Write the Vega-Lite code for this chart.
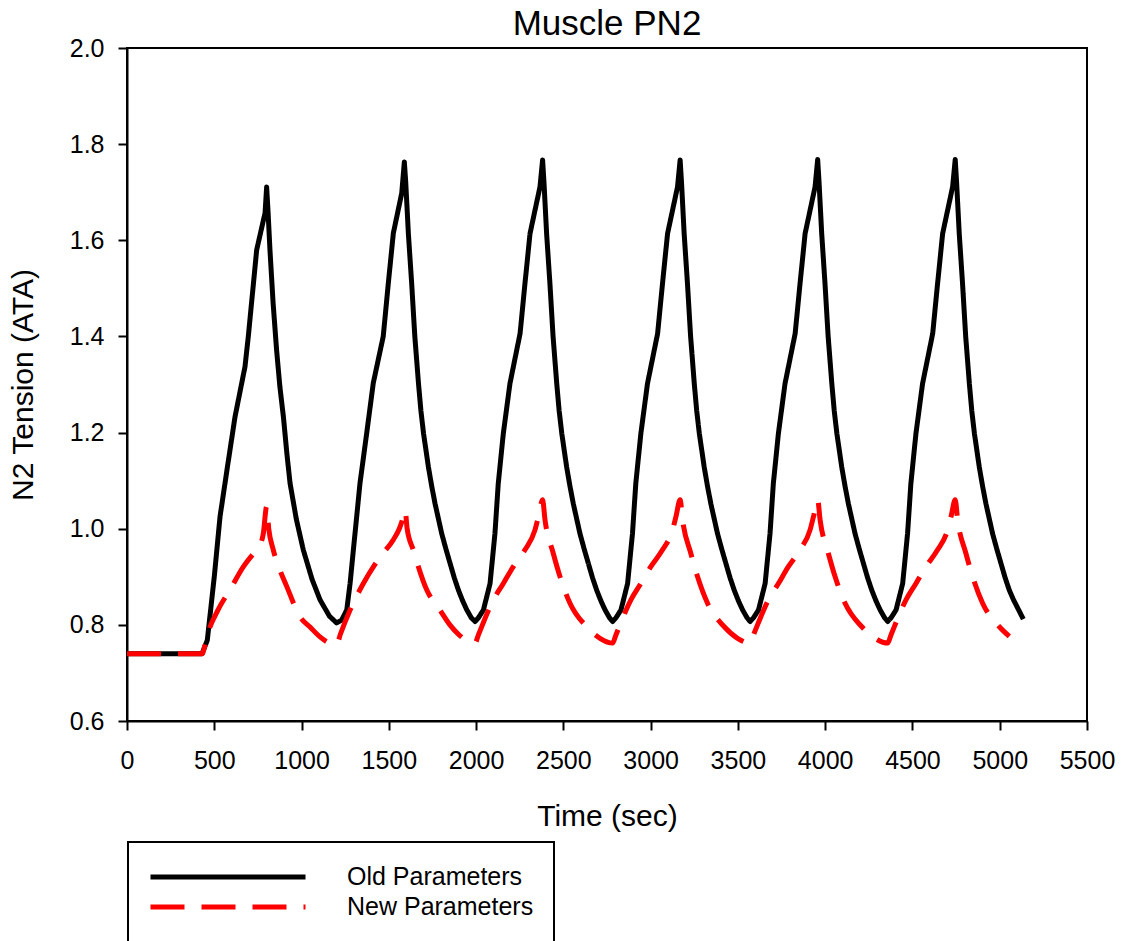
{
  "$schema": "https://vega.github.io/schema/vega-lite/v6.json",
  "width": 960,
  "height": 673,
  "autosize": {"type": "none"},
  "padding": {"left": 127, "top": 48, "right": 36, "bottom": 220},
  "title": {"text": "Muscle PN2", "fontSize": 35, "fontWeight": "normal", "color": "black", "baseline": "bottom", "offset": 5, "dy": 46, "anchor": "middle", "frame": "group"},
  "config": {
    "font": "Liberation Sans",
    "view": {"stroke": "black", "strokeWidth": 2},
    "legend": {"strokeWidth": 2, "strokeColor": "black"},
    "axis": {"grid": false, "domainColor": "black", "domainWidth": 2, "tickColor": "black", "tickWidth": 2, "tickSize": 9, "labelColor": "black", "titleColor": "black", "labelFontSize": 25, "titleFontSize": 30, "titleFontWeight": "normal", "labelFont": "Liberation Sans", "titleFont": "Liberation Sans"}
  },
  "data": {"values": [
    {"series": "Old Parameters", "t": 0, "v": 0.74},
    {"series": "Old Parameters", "t": 430, "v": 0.74},
    {"series": "Old Parameters", "t": 460, "v": 0.768},
    {"series": "Old Parameters", "t": 500, "v": 0.90},
    {"series": "Old Parameters", "t": 533, "v": 1.025},
    {"series": "Old Parameters", "t": 576, "v": 1.13},
    {"series": "Old Parameters", "t": 619, "v": 1.233},
    {"series": "Old Parameters", "t": 676, "v": 1.337},
    {"series": "Old Parameters", "t": 695, "v": 1.40},
    {"series": "Old Parameters", "t": 743, "v": 1.58},
    {"series": "Old Parameters", "t": 791, "v": 1.657},
    {"series": "Old Parameters", "t": 800, "v": 1.711},
    {"series": "Old Parameters", "t": 808, "v": 1.66},
    {"series": "Old Parameters", "t": 819, "v": 1.58},
    {"series": "Old Parameters", "t": 837, "v": 1.47},
    {"series": "Old Parameters", "t": 857, "v": 1.372},
    {"series": "Old Parameters", "t": 876, "v": 1.295},
    {"series": "Old Parameters", "t": 896, "v": 1.233},
    {"series": "Old Parameters", "t": 915, "v": 1.16},
    {"series": "Old Parameters", "t": 934, "v": 1.095},
    {"series": "Old Parameters", "t": 970, "v": 1.02},
    {"series": "Old Parameters", "t": 1010, "v": 0.956},
    {"series": "Old Parameters", "t": 1060, "v": 0.895},
    {"series": "Old Parameters", "t": 1106, "v": 0.852},
    {"series": "Old Parameters", "t": 1160, "v": 0.818},
    {"series": "Old Parameters", "t": 1201, "v": 0.804},
    {"series": "Old Parameters", "t": 1230, "v": 0.81},
    {"series": "Old Parameters", "t": 1259, "v": 0.831},
    {"series": "Old Parameters", "t": 1278, "v": 0.886},
    {"series": "Old Parameters", "t": 1297, "v": 0.956},
    {"series": "Old Parameters", "t": 1335, "v": 1.095},
    {"series": "Old Parameters", "t": 1373, "v": 1.198},
    {"series": "Old Parameters", "t": 1411, "v": 1.303},
    {"series": "Old Parameters", "t": 1468, "v": 1.40},
    {"series": "Old Parameters", "t": 1497, "v": 1.51},
    {"series": "Old Parameters", "t": 1526, "v": 1.615},
    {"series": "Old Parameters", "t": 1574, "v": 1.698},
    {"series": "Old Parameters", "t": 1589, "v": 1.763},
    {"series": "Old Parameters", "t": 1597, "v": 1.72},
    {"series": "Old Parameters", "t": 1612, "v": 1.614},
    {"series": "Old Parameters", "t": 1631, "v": 1.51},
    {"series": "Old Parameters", "t": 1649, "v": 1.40},
    {"series": "Old Parameters", "t": 1670, "v": 1.302},
    {"series": "Old Parameters", "t": 1684, "v": 1.245},
    {"series": "Old Parameters", "t": 1699, "v": 1.198},
    {"series": "Old Parameters", "t": 1727, "v": 1.128},
    {"series": "Old Parameters", "t": 1746, "v": 1.088},
    {"series": "Old Parameters", "t": 1765, "v": 1.052},
    {"series": "Old Parameters", "t": 1803, "v": 0.99},
    {"series": "Old Parameters", "t": 1827, "v": 0.958},
    {"series": "Old Parameters", "t": 1851, "v": 0.928},
    {"series": "Old Parameters", "t": 1875, "v": 0.898},
    {"series": "Old Parameters", "t": 1899, "v": 0.872},
    {"series": "Old Parameters", "t": 1923, "v": 0.85},
    {"series": "Old Parameters", "t": 1947, "v": 0.831},
    {"series": "Old Parameters", "t": 1972, "v": 0.815},
    {"series": "Old Parameters", "t": 1994, "v": 0.807},
    {"series": "Old Parameters", "t": 2014, "v": 0.815},
    {"series": "Old Parameters", "t": 2042, "v": 0.831},
    {"series": "Old Parameters", "t": 2080, "v": 0.886},
    {"series": "Old Parameters", "t": 2108, "v": 0.99},
    {"series": "Old Parameters", "t": 2127, "v": 1.094},
    {"series": "Old Parameters", "t": 2156, "v": 1.198},
    {"series": "Old Parameters", "t": 2194, "v": 1.302},
    {"series": "Old Parameters", "t": 2252, "v": 1.406},
    {"series": "Old Parameters", "t": 2280, "v": 1.51},
    {"series": "Old Parameters", "t": 2309, "v": 1.614},
    {"series": "Old Parameters", "t": 2366, "v": 1.711},
    {"series": "Old Parameters", "t": 2381, "v": 1.767},
    {"series": "Old Parameters", "t": 2389, "v": 1.72},
    {"series": "Old Parameters", "t": 2404, "v": 1.614},
    {"series": "Old Parameters", "t": 2423, "v": 1.51},
    {"series": "Old Parameters", "t": 2441, "v": 1.40},
    {"series": "Old Parameters", "t": 2462, "v": 1.302},
    {"series": "Old Parameters", "t": 2476, "v": 1.245},
    {"series": "Old Parameters", "t": 2491, "v": 1.198},
    {"series": "Old Parameters", "t": 2519, "v": 1.128},
    {"series": "Old Parameters", "t": 2538, "v": 1.088},
    {"series": "Old Parameters", "t": 2557, "v": 1.052},
    {"series": "Old Parameters", "t": 2595, "v": 0.99},
    {"series": "Old Parameters", "t": 2619, "v": 0.958},
    {"series": "Old Parameters", "t": 2643, "v": 0.928},
    {"series": "Old Parameters", "t": 2667, "v": 0.898},
    {"series": "Old Parameters", "t": 2691, "v": 0.872},
    {"series": "Old Parameters", "t": 2715, "v": 0.85},
    {"series": "Old Parameters", "t": 2739, "v": 0.831},
    {"series": "Old Parameters", "t": 2764, "v": 0.815},
    {"series": "Old Parameters", "t": 2782, "v": 0.807},
    {"series": "Old Parameters", "t": 2802, "v": 0.815},
    {"series": "Old Parameters", "t": 2830, "v": 0.831},
    {"series": "Old Parameters", "t": 2868, "v": 0.886},
    {"series": "Old Parameters", "t": 2896, "v": 0.99},
    {"series": "Old Parameters", "t": 2915, "v": 1.094},
    {"series": "Old Parameters", "t": 2944, "v": 1.198},
    {"series": "Old Parameters", "t": 2982, "v": 1.302},
    {"series": "Old Parameters", "t": 3040, "v": 1.406},
    {"series": "Old Parameters", "t": 3068, "v": 1.51},
    {"series": "Old Parameters", "t": 3097, "v": 1.614},
    {"series": "Old Parameters", "t": 3154, "v": 1.711},
    {"series": "Old Parameters", "t": 3169, "v": 1.767},
    {"series": "Old Parameters", "t": 3177, "v": 1.72},
    {"series": "Old Parameters", "t": 3192, "v": 1.614},
    {"series": "Old Parameters", "t": 3211, "v": 1.51},
    {"series": "Old Parameters", "t": 3229, "v": 1.40},
    {"series": "Old Parameters", "t": 3250, "v": 1.302},
    {"series": "Old Parameters", "t": 3264, "v": 1.245},
    {"series": "Old Parameters", "t": 3279, "v": 1.198},
    {"series": "Old Parameters", "t": 3307, "v": 1.128},
    {"series": "Old Parameters", "t": 3326, "v": 1.088},
    {"series": "Old Parameters", "t": 3345, "v": 1.052},
    {"series": "Old Parameters", "t": 3383, "v": 0.99},
    {"series": "Old Parameters", "t": 3407, "v": 0.958},
    {"series": "Old Parameters", "t": 3431, "v": 0.928},
    {"series": "Old Parameters", "t": 3455, "v": 0.898},
    {"series": "Old Parameters", "t": 3479, "v": 0.872},
    {"series": "Old Parameters", "t": 3503, "v": 0.85},
    {"series": "Old Parameters", "t": 3527, "v": 0.831},
    {"series": "Old Parameters", "t": 3552, "v": 0.815},
    {"series": "Old Parameters", "t": 3570, "v": 0.807},
    {"series": "Old Parameters", "t": 3590, "v": 0.815},
    {"series": "Old Parameters", "t": 3618, "v": 0.831},
    {"series": "Old Parameters", "t": 3656, "v": 0.886},
    {"series": "Old Parameters", "t": 3684, "v": 0.99},
    {"series": "Old Parameters", "t": 3703, "v": 1.094},
    {"series": "Old Parameters", "t": 3732, "v": 1.198},
    {"series": "Old Parameters", "t": 3770, "v": 1.302},
    {"series": "Old Parameters", "t": 3828, "v": 1.406},
    {"series": "Old Parameters", "t": 3856, "v": 1.51},
    {"series": "Old Parameters", "t": 3885, "v": 1.614},
    {"series": "Old Parameters", "t": 3942, "v": 1.711},
    {"series": "Old Parameters", "t": 3957, "v": 1.768},
    {"series": "Old Parameters", "t": 3965, "v": 1.72},
    {"series": "Old Parameters", "t": 3980, "v": 1.614},
    {"series": "Old Parameters", "t": 3999, "v": 1.51},
    {"series": "Old Parameters", "t": 4017, "v": 1.40},
    {"series": "Old Parameters", "t": 4038, "v": 1.302},
    {"series": "Old Parameters", "t": 4052, "v": 1.245},
    {"series": "Old Parameters", "t": 4067, "v": 1.198},
    {"series": "Old Parameters", "t": 4095, "v": 1.128},
    {"series": "Old Parameters", "t": 4114, "v": 1.088},
    {"series": "Old Parameters", "t": 4133, "v": 1.052},
    {"series": "Old Parameters", "t": 4171, "v": 0.99},
    {"series": "Old Parameters", "t": 4195, "v": 0.958},
    {"series": "Old Parameters", "t": 4219, "v": 0.928},
    {"series": "Old Parameters", "t": 4243, "v": 0.898},
    {"series": "Old Parameters", "t": 4267, "v": 0.872},
    {"series": "Old Parameters", "t": 4291, "v": 0.85},
    {"series": "Old Parameters", "t": 4315, "v": 0.831},
    {"series": "Old Parameters", "t": 4340, "v": 0.815},
    {"series": "Old Parameters", "t": 4358, "v": 0.807},
    {"series": "Old Parameters", "t": 4378, "v": 0.815},
    {"series": "Old Parameters", "t": 4406, "v": 0.831},
    {"series": "Old Parameters", "t": 4444, "v": 0.886},
    {"series": "Old Parameters", "t": 4472, "v": 0.99},
    {"series": "Old Parameters", "t": 4491, "v": 1.094},
    {"series": "Old Parameters", "t": 4520, "v": 1.198},
    {"series": "Old Parameters", "t": 4558, "v": 1.302},
    {"series": "Old Parameters", "t": 4616, "v": 1.406},
    {"series": "Old Parameters", "t": 4644, "v": 1.51},
    {"series": "Old Parameters", "t": 4673, "v": 1.614},
    {"series": "Old Parameters", "t": 4730, "v": 1.711},
    {"series": "Old Parameters", "t": 4745, "v": 1.768},
    {"series": "Old Parameters", "t": 4753, "v": 1.72},
    {"series": "Old Parameters", "t": 4768, "v": 1.614},
    {"series": "Old Parameters", "t": 4787, "v": 1.51},
    {"series": "Old Parameters", "t": 4805, "v": 1.40},
    {"series": "Old Parameters", "t": 4826, "v": 1.302},
    {"series": "Old Parameters", "t": 4840, "v": 1.245},
    {"series": "Old Parameters", "t": 4855, "v": 1.198},
    {"series": "Old Parameters", "t": 4883, "v": 1.128},
    {"series": "Old Parameters", "t": 4902, "v": 1.088},
    {"series": "Old Parameters", "t": 4921, "v": 1.052},
    {"series": "Old Parameters", "t": 4959, "v": 0.99},
    {"series": "Old Parameters", "t": 4983, "v": 0.958},
    {"series": "Old Parameters", "t": 5007, "v": 0.928},
    {"series": "Old Parameters", "t": 5031, "v": 0.898},
    {"series": "Old Parameters", "t": 5055, "v": 0.872},
    {"series": "Old Parameters", "t": 5079, "v": 0.852},
    {"series": "Old Parameters", "t": 5103, "v": 0.835},
    {"series": "Old Parameters", "t": 5135, "v": 0.812},
    {"series": "New Parameters", "t": 0, "v": 0.74},
    {"series": "New Parameters", "t": 430, "v": 0.74},
    {"series": "New Parameters", "t": 445, "v": 0.755},
    {"series": "New Parameters", "t": 458, "v": 0.775},
    {"series": "New Parameters", "t": 520, "v": 0.83},
    {"series": "New Parameters", "t": 590, "v": 0.873},
    {"series": "New Parameters", "t": 667, "v": 0.921},
    {"series": "New Parameters", "t": 740, "v": 0.955},
    {"series": "New Parameters", "t": 762, "v": 0.965},
    {"series": "New Parameters", "t": 781, "v": 0.99},
    {"series": "New Parameters", "t": 800, "v": 1.046},
    {"series": "New Parameters", "t": 812, "v": 1.0},
    {"series": "New Parameters", "t": 838, "v": 0.956},
    {"series": "New Parameters", "t": 875, "v": 0.915},
    {"series": "New Parameters", "t": 915, "v": 0.88},
    {"series": "New Parameters", "t": 991, "v": 0.817},
    {"series": "New Parameters", "t": 1050, "v": 0.795},
    {"series": "New Parameters", "t": 1106, "v": 0.775},
    {"series": "New Parameters", "t": 1160, "v": 0.762},
    {"series": "New Parameters", "t": 1201, "v": 0.758},
    {"series": "New Parameters", "t": 1222, "v": 0.78},
    {"series": "New Parameters", "t": 1278, "v": 0.831},
    {"series": "New Parameters", "t": 1354, "v": 0.886},
    {"series": "New Parameters", "t": 1449, "v": 0.941},
    {"series": "New Parameters", "t": 1526, "v": 0.977},
    {"series": "New Parameters", "t": 1560, "v": 1.0},
    {"series": "New Parameters", "t": 1575, "v": 1.015},
    {"series": "New Parameters", "t": 1593, "v": 1.039},
    {"series": "New Parameters", "t": 1605, "v": 1.0},
    {"series": "New Parameters", "t": 1640, "v": 0.956},
    {"series": "New Parameters", "t": 1717, "v": 0.873},
    {"series": "New Parameters", "t": 1793, "v": 0.831},
    {"series": "New Parameters", "t": 1850, "v": 0.80},
    {"series": "New Parameters", "t": 1900, "v": 0.78},
    {"series": "New Parameters", "t": 1946, "v": 0.767},
    {"series": "New Parameters", "t": 1994, "v": 0.762},
    {"series": "New Parameters", "t": 2013, "v": 0.779},
    {"series": "New Parameters", "t": 2099, "v": 0.852},
    {"series": "New Parameters", "t": 2156, "v": 0.886},
    {"series": "New Parameters", "t": 2213, "v": 0.921},
    {"series": "New Parameters", "t": 2280, "v": 0.956},
    {"series": "New Parameters", "t": 2337, "v": 0.997},
    {"series": "New Parameters", "t": 2357, "v": 1.025},
    {"series": "New Parameters", "t": 2381, "v": 1.06},
    {"series": "New Parameters", "t": 2395, "v": 1.018},
    {"series": "New Parameters", "t": 2442, "v": 0.949},
    {"series": "New Parameters", "t": 2481, "v": 0.90},
    {"series": "New Parameters", "t": 2538, "v": 0.845},
    {"series": "New Parameters", "t": 2634, "v": 0.796},
    {"series": "New Parameters", "t": 2710, "v": 0.772},
    {"series": "New Parameters", "t": 2782, "v": 0.762},
    {"series": "New Parameters", "t": 2801, "v": 0.779},
    {"series": "New Parameters", "t": 2887, "v": 0.852},
    {"series": "New Parameters", "t": 2944, "v": 0.886},
    {"series": "New Parameters", "t": 3001, "v": 0.921},
    {"series": "New Parameters", "t": 3068, "v": 0.956},
    {"series": "New Parameters", "t": 3125, "v": 0.997},
    {"series": "New Parameters", "t": 3145, "v": 1.025},
    {"series": "New Parameters", "t": 3169, "v": 1.06},
    {"series": "New Parameters", "t": 3183, "v": 1.018},
    {"series": "New Parameters", "t": 3230, "v": 0.949},
    {"series": "New Parameters", "t": 3269, "v": 0.90},
    {"series": "New Parameters", "t": 3326, "v": 0.845},
    {"series": "New Parameters", "t": 3422, "v": 0.796},
    {"series": "New Parameters", "t": 3498, "v": 0.772},
    {"series": "New Parameters", "t": 3570, "v": 0.762},
    {"series": "New Parameters", "t": 3589, "v": 0.779},
    {"series": "New Parameters", "t": 3675, "v": 0.852},
    {"series": "New Parameters", "t": 3732, "v": 0.886},
    {"series": "New Parameters", "t": 3789, "v": 0.921},
    {"series": "New Parameters", "t": 3856, "v": 0.956},
    {"series": "New Parameters", "t": 3913, "v": 0.997},
    {"series": "New Parameters", "t": 3933, "v": 1.025},
    {"series": "New Parameters", "t": 3957, "v": 1.06},
    {"series": "New Parameters", "t": 3971, "v": 1.018},
    {"series": "New Parameters", "t": 4018, "v": 0.949},
    {"series": "New Parameters", "t": 4057, "v": 0.90},
    {"series": "New Parameters", "t": 4114, "v": 0.845},
    {"series": "New Parameters", "t": 4210, "v": 0.796},
    {"series": "New Parameters", "t": 4286, "v": 0.772},
    {"series": "New Parameters", "t": 4358, "v": 0.762},
    {"series": "New Parameters", "t": 4377, "v": 0.779},
    {"series": "New Parameters", "t": 4463, "v": 0.852},
    {"series": "New Parameters", "t": 4520, "v": 0.886},
    {"series": "New Parameters", "t": 4577, "v": 0.921},
    {"series": "New Parameters", "t": 4644, "v": 0.956},
    {"series": "New Parameters", "t": 4701, "v": 0.997},
    {"series": "New Parameters", "t": 4721, "v": 1.025},
    {"series": "New Parameters", "t": 4745, "v": 1.06},
    {"series": "New Parameters", "t": 4759, "v": 1.018},
    {"series": "New Parameters", "t": 4806, "v": 0.949},
    {"series": "New Parameters", "t": 4845, "v": 0.90},
    {"series": "New Parameters", "t": 4902, "v": 0.845},
    {"series": "New Parameters", "t": 4998, "v": 0.796},
    {"series": "New Parameters", "t": 5055, "v": 0.776}
  ]},
  "encoding": {
    "x": {"field": "t", "type": "quantitative", "title": "Time (sec)",
      "scale": {"domain": [0, 5500], "nice": false, "zero": false},
      "axis": {"values": [0, 500, 1000, 1500, 2000, 2500, 3000, 3500, 4000, 4500, 5000, 5500], "format": "d", "labelPadding": 18, "titlePadding": 28, "labelFlush": false}},
    "y": {"field": "v", "type": "quantitative", "title": "N2 Tension (ATA)",
      "scale": {"domain": [0.6, 2.0], "nice": false, "zero": false},
      "axis": {"values": [0.6, 0.8, 1.0, 1.2, 1.4, 1.6, 1.8, 2.0], "format": ".1f", "labelPadding": 14, "titlePadding": 31, "labelFlush": false}},
    "color": {"field": "series", "type": "nominal",
      "scale": {"domain": ["Old Parameters", "New Parameters"], "range": ["#000000", "#ff0000"]},
      "legend": {"title": null, "orient": "none", "legendX": 1, "legendY": 794, "direction": "vertical",
        "strokeColor": "black", "fillColor": "white", "padding": 20,
        "symbolType": "stroke", "symbolSize": 24025, "symbolStrokeWidth": 5, "clipHeight": 30, "rowPadding": 0,
        "labelOffset": 39, "labelFontSize": 25, "labelColor": "black", "labelFont": "Liberation Sans", "labelLimit": 400}},
    "strokeDash": {"field": "series", "type": "nominal",
      "scale": {"domain": ["Old Parameters", "New Parameters"], "range": [[1, 0], [34, 17]]},
      "legend": null}
  },
  "layer": [
    {"transform": [{"filter": "datum.series === 'Old Parameters'"}],
     "mark": {"type": "line", "strokeWidth": 5, "strokeJoin": "round", "strokeCap": "butt", "interpolate": "linear"}},
    {"transform": [{"filter": "datum.series === 'New Parameters'"}],
     "mark": {"type": "line", "strokeWidth": 5, "strokeJoin": "round", "strokeCap": "butt", "interpolate": "monotone"}}
  ]
}
